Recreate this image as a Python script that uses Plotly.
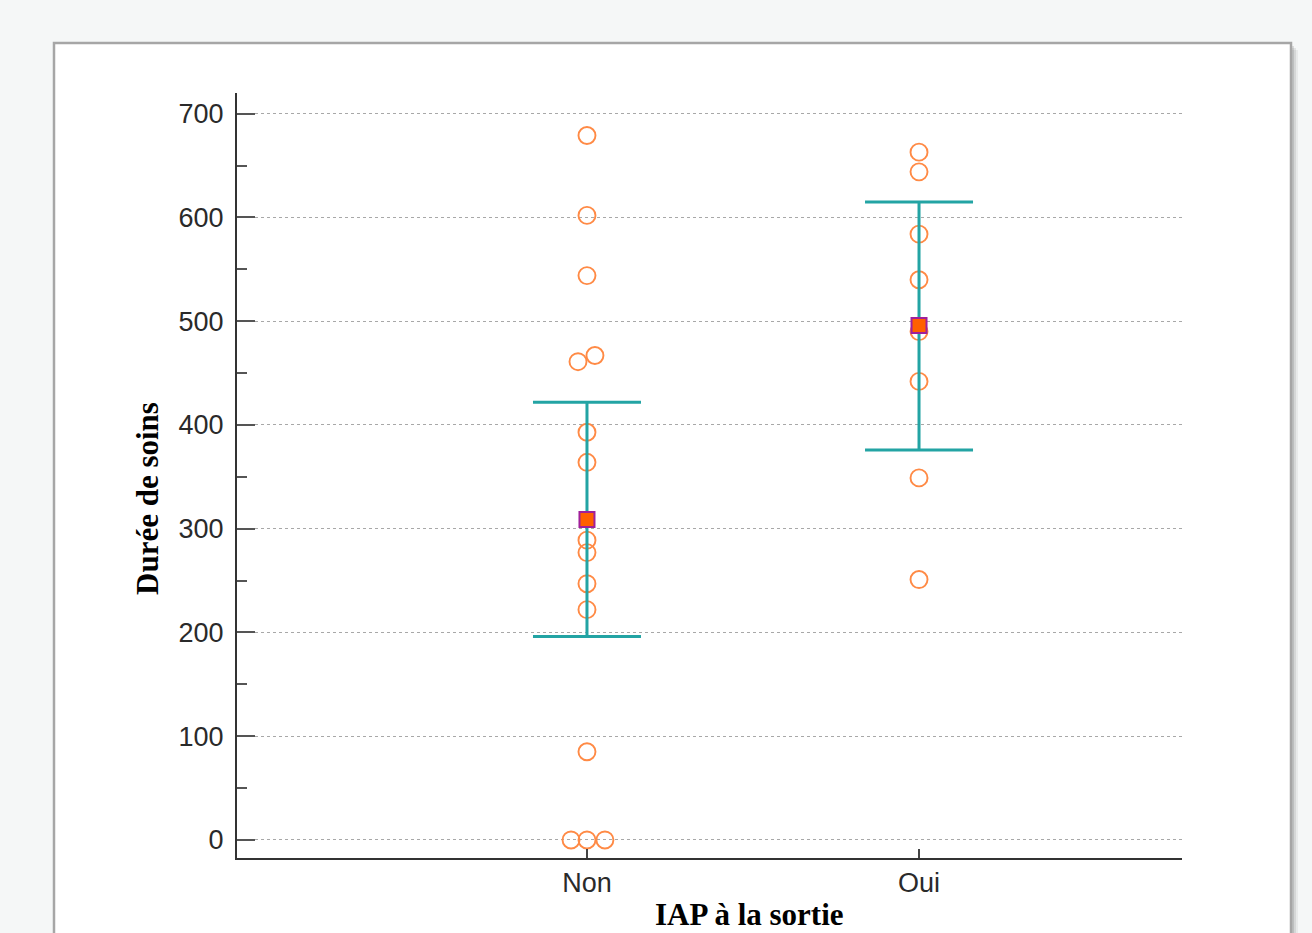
import plotly.graph_objects as go

categories = ["Non", "Oui"]

# individual observations (Durée de soins)
non_values = [679, 602, 544, 461, 467, 393, 364, 289, 277, 247, 222, 85, 0, 0, 0]
non_jitter = [0, 0, 0, -0.027, 0.024, 0, 0, 0, 0, 0, 0, 0, -0.048, 0, 0.054]
oui_values = [663, 644, 584, 540, 490, 442, 349, 251]
oui_jitter = [0, 0, 0, 0, 0, 0, 0, 0]

# summary (mean with interval)
means = [309, 496]
upper = [422, 615]
lower = [196, 376]

y_ticks = [0, 100, 200, 300, 400, 500, 600, 700]

x_title = "IAP à la sortie"
y_title = "Durée de soins"

W, H = 1312, 933
L, R, T, B = 237, 130, 93, 75
pw, ph = W - L - R, H - T - B


def px_x(p):
    return (p - L) / pw


def px_y(p):
    return (H - B - p) / ph


fig = go.Figure()

xs = [0 + j for j in non_jitter] + [1 + j for j in oui_jitter]
ys = non_values + oui_values
fig.add_trace(go.Scatter(
    x=xs, y=ys, mode="markers",
    marker=dict(symbol="circle-open", size=17, color="#ff8a45",
                line=dict(width=1.9, color="#ff8a45")),
    hoverinfo="y", showlegend=False,
))

fig.add_trace(go.Scatter(
    x=[0, 1], y=means, mode="markers",
    marker=dict(symbol="square", size=15, color="#ff6000",
                line=dict(width=2, color="#a0209a")),
    error_y=dict(type="data", symmetric=False,
                 array=[u - m for u, m in zip(upper, means)],
                 arrayminus=[m - l for m, l in zip(means, lower)],
                 color="#23a4a4", thickness=3, width=54),
    showlegend=False,
))

# panel with shadow
shapes = []
for i, a in enumerate([0.05, 0.08, 0.11]):
    off = 7 - 2 * i
    shapes.append(dict(type="rect", xref="paper", yref="paper", layer="below",
                       x0=px_x(54 + off), x1=px_x(1291 + off),
                       y0=-0.3, y1=px_y(43 + off),
                       fillcolor="rgba(0,0,0,%s)" % a, line=dict(width=0)))
shapes.append(dict(type="rect", xref="paper", yref="paper", layer="below",
                   x0=px_x(54), x1=px_x(1291), y0=-0.3, y1=px_y(43),
                   fillcolor="white", line=dict(width=2.5, color="#a6a6a6")))

title_font = dict(family="Liberation Serif, Times New Roman", size=31, color="black")
annotations = [
    dict(text="<b>%s</b>" % x_title, xref="paper", yref="paper",
         x=px_x(749), y=px_y(914), xanchor="center", yanchor="middle",
         showarrow=False, font=title_font),
    dict(text="<b>%s</b>" % y_title, xref="paper", yref="paper",
         x=px_x(147), y=px_y(499), xanchor="center", yanchor="middle",
         textangle=-90, showarrow=False, font=title_font),
]

fig.update_layout(
    width=W, height=H,
    margin=dict(l=L, r=R, t=T, b=B, autoexpand=False),
    paper_bgcolor="#f5f7f7",
    plot_bgcolor="rgba(0,0,0,0)",
    shapes=shapes,
    annotations=annotations,
    font=dict(family="Liberation Sans, Arial", color="#2a2a2a", size=27),
)

fig.update_xaxes(
    range=[-1.054, 1.792],
    tickmode="array", tickvals=[0, 1], ticktext=categories,
    ticks="inside", ticklen=9, tickwidth=1.5, tickcolor="#444444",
    showgrid=False, zeroline=False,
    showline=True, linecolor="#333333", linewidth=2,
    tickfont=dict(size=27, color="#2a2a2a"),
)

fig.update_yaxes(
    range=[-17.4, 720],
    tickmode="array", tickvals=y_ticks,
    ticks="inside", ticklen=18, tickwidth=2, tickcolor="#555555",
    minor=dict(dtick=50, ticks="inside", ticklen=10, tickwidth=2, tickcolor="#555555", showgrid=False),
    showgrid=True, gridcolor="#a8a8a8", gridwidth=1, griddash="dot",
    zeroline=False,
    showline=True, linecolor="#333333", linewidth=2,
    ticklabelstandoff=6,
    tickfont=dict(size=27, color="#2a2a2a"),
)

fig.write_html("out.html", config={"displayModeBar": False},
               post_script="document.body.style.margin='0';document.body.style.background='#f5f7f7';")
